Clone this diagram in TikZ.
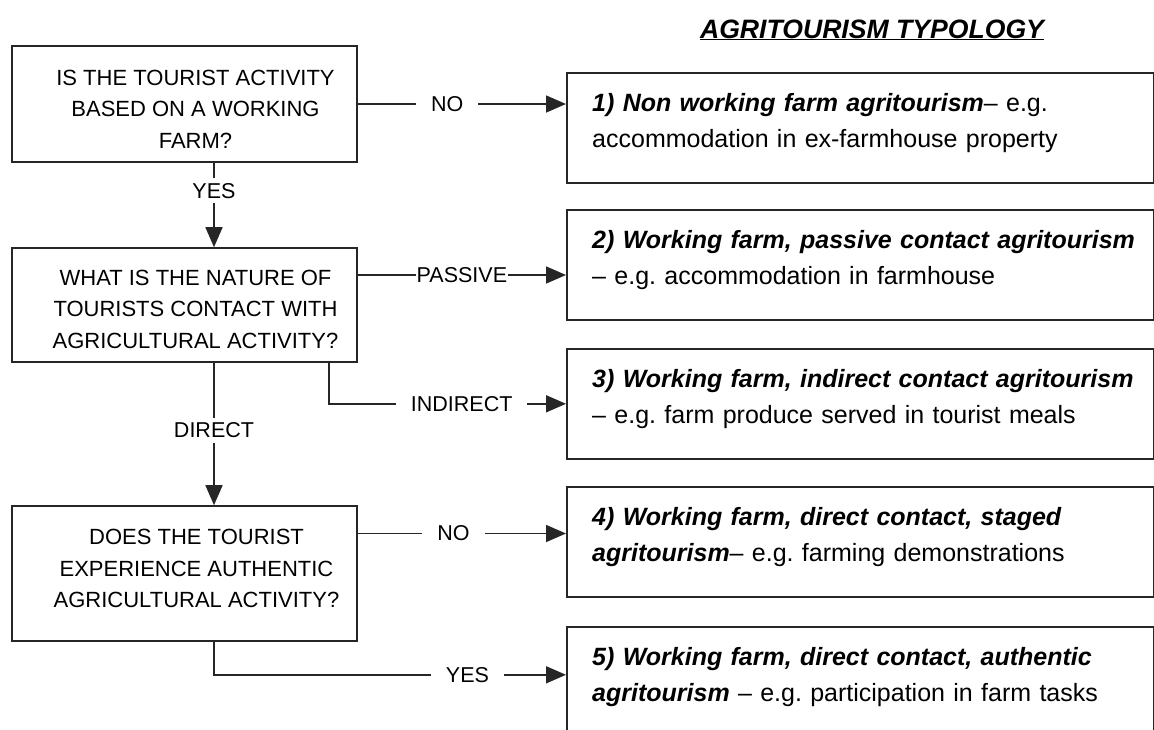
\documentclass[tikz,border=0pt]{standalone}
\usepackage{fontspec}
\setmainfont{Liberation Sans}
\usepackage{tikz}
\usetikzlibrary{arrows.meta}
\frenchspacing

\begin{document}
\begin{tikzpicture}[x=1pt, y=-1pt,
  qbox/.style={draw=black!85, line width=1.6pt, minimum width=345pt, inner sep=0pt},
  qtext/.style={align=center, inner sep=0pt, font=\fontsize{22}{31.5}\selectfont},
  tbox/.style={draw=black!85, line width=1.6pt, minimum width=587pt, minimum height=110pt, anchor=north west, inner sep=0pt},
  ttext/.style={anchor=base west, text width=560pt, align=left, inner sep=0pt, font=\fontsize{25}{36}\selectfont},
  lab/.style={fill=white, inner xsep=15pt, inner ysep=5pt, font=\fontsize{21.5}{24}\selectfont},
  arr/.style={draw=black!85, line width=1.6pt, -{Triangle[length=20pt, width=17pt]}}]
\useasboundingbox (0,0) rectangle (1154,729);
\clip (0,0) rectangle (1154,729);

\node[anchor=base, font=\fontsize{26.6}{30}\selectfont\bfseries\itshape] (title) at (872,38) {\underline{AGRITOURISM TYPOLOGY}};

% questions
\node[qbox, minimum height=116pt] (farm) at (184.5,104) {};
\node[qbox, minimum height=114pt] (contact) at (184.5,305) {};
\node[qbox, minimum height=135pt] (authentic) at (184.5,573.5) {};
\node[qtext] (q1) at ([xshift=11pt,yshift=-5pt]farm.center) {IS THE TOURIST ACTIVITY\\BASED ON A WORKING\\FARM?};
\node[qtext] (q2) at ([xshift=11pt,yshift=-4pt]contact.center) {WHAT IS THE NATURE OF\\TOURISTS CONTACT WITH\\AGRICULTURAL ACTIVITY?};
\node[qtext] (q3) at ([xshift=12pt,yshift=5pt]authentic.center) {DOES THE TOURIST\\EXPERIENCE AUTHENTIC\\AGRICULTURAL ACTIVITY?};

% typology boxes
\node[tbox] (t1) at (566,72) {};
\node[tbox] (t2) at (566,209) {};
\node[tbox] (t3) at (566,348) {};
\node[tbox] (t4) at (566,486) {};
\node[tbox] (t5) at (566,626) {};
\node[ttext] (d1) at ([xshift=26pt,yshift=-39pt]t1.north west) {\textbf{\textit{1) Non working farm agritourism}}– e.g.\\accommodation in ex-farmhouse property};
\node[ttext] (d2) at ([xshift=26pt,yshift=-39pt]t2.north west) {\textbf{\textit{2) Working farm, passive contact agritourism}}\\– e.g. accommodation in farmhouse};
\node[ttext] (d3) at ([xshift=26pt,yshift=-39pt]t3.north west) {\textbf{\textit{3) Working farm, indirect contact agritourism}}\\– e.g. farm produce served in tourist meals};
\node[ttext] (d4) at ([xshift=26pt,yshift=-39pt]t4.north west) {\textbf{\textit{4) Working farm, direct contact, staged}}\\\textbf{\textit{agritourism}}– e.g. farming demonstrations};
\node[ttext] (d5) at ([xshift=26pt,yshift=-39pt]t5.north west) {\textbf{\textit{5) Working farm, direct contact, authentic}}\\\textbf{\textit{agritourism}} – e.g. participation in farm tasks};

% connectors
\coordinate (mid) at (214,0);
\coordinate (side) at (329,0);
\draw[arr] (farm.east) -- (farm.east -| t1.west) node[lab, pos=0.43] (no1) {NO};
\draw[arr] (farm.south -| mid) -- (contact.north -| mid) node[lab, pos=0.33, inner xsep=3pt] (yes1) {YES};
\draw[arr] ([yshift=30pt]contact.east) -- ([yshift=30pt]contact.east -| t2.west) node[lab, pos=0.5, inner xsep=1pt] (passive) {PASSIVE};
\draw[arr] (contact.south -| side) |- (t3.west) node[lab, pos=0.78] (indirect) {INDIRECT};
\draw[arr] (contact.south -| mid) -- (authentic.north -| mid) node[lab, pos=0.476, inner xsep=3pt] (direct) {DIRECT};
\draw[arr] ([yshift=40pt]authentic.east) -- ([yshift=40pt]authentic.east -| t4.west) node[lab, pos=0.46] (no2) {NO};
\draw[arr] (authentic.south -| mid) |- ([yshift=7pt]t5.west) node[lab, pos=0.86] (yes2) {YES};
\end{tikzpicture}
\end{document}
